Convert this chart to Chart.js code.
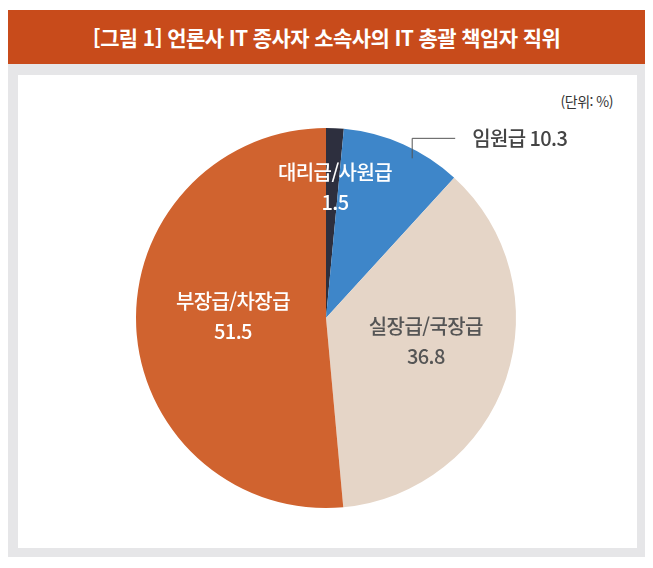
<!DOCTYPE html>
<html lang="ko">
<head>
    <meta charset="UTF-8">
    <title>언론사 IT 총괄 책임자 직위</title>
    <style>
        body {
            margin: 0;
            background: #ffffff;
            font-family: 'Noto Sans CJK KR', 'Noto Sans', sans-serif;
        }
        .header {
            position: absolute;
            left: 8px;
            top: 10px;
            width: 637px;
            height: 54px;
            background: #c84b1b;
            color: #ffffff;
            font-size: 21px;
            font-weight: bold;
            letter-spacing: -0.6px;
            line-height: 54px;
            text-align: center;
        }
        .frame {
            position: absolute;
            left: 8px;
            top: 64px;
            width: 637px;
            height: 493px;
            background: #e6e6e8;
        }
        .panel {
            position: absolute;
            left: 18px;
            top: 75px;
            width: 619px;
            height: 473px;
            background: #ffffff;
        }
        .unit {
            position: absolute;
            right: 24px;
            top: 16px;
            font-size: 14px;
            color: #333;
            letter-spacing: -0.5px;
        }
        #pie-chart {
            position: absolute;
            left: 0;
            top: 0;
        }
    </style>
</head>
<body>
    <div class="header">[그림 1] 언론사 IT 종사자 소속사의 IT 총괄 책임자 직위</div>
    <div class="frame"></div>
    <div class="panel">
        <div class="unit">(단위: %)</div>
        <div style="position:absolute;left:0;top:0;width:619px;height:473px;">
            <canvas id="pie-chart" width="619" height="473"></canvas>
        </div>
    </div>

    <script src="https://cdn.jsdelivr.net/npm/chart.js"></script>
    <script>
        // data, clockwise from 12 o'clock
        const categories = ['대리급/사원급', '임원급', '실장급/국장급', '부장급/차장급'];
        const shares = [1.5, 10.3, 36.8, 51.5];
        const sliceColors = ['#2d2f3e', '#3e86c9', '#e5d5c7', '#d0632f'];

        // where each label sits: t = position along the slice, rf = fraction of radius
        const labelSpots = [
            { t: 0.73, rf: 0.69, color: '#ffffff' },
            { t: 0.62, rf: 0.955, color: '#444444', leader: true },
            { t: 0.46, rf: 0.54, color: '#555555' },
            { t: 0.52, rf: 0.49, color: '#ffffff' }
        ];

        const sliceLabels = {
            id: 'sliceLabels',
            afterDatasetsDraw(chart) {
                const ctx = chart.ctx;
                const meta = chart.getDatasetMeta(0);
                ctx.save();
                ctx.font = '500 20px "Noto Sans CJK KR", sans-serif';
                ctx.letterSpacing = '-0.6px';
                ctx.textBaseline = 'middle';
                meta.data.forEach(function(arc, i) {
                    const p = arc.getProps(['x', 'y', 'startAngle', 'endAngle', 'outerRadius'], true);
                    const spot = labelSpots[i];
                    const a = p.startAngle + spot.t * (p.endAngle - p.startAngle);
                    const px = p.x + Math.cos(a) * p.outerRadius * spot.rf;
                    const py = p.y + Math.sin(a) * p.outerRadius * spot.rf;
                    ctx.fillStyle = spot.color;
                    if (spot.leader) {
                        // elbow line out of the slice, label to its right
                        const topY = py - 20;
                        ctx.strokeStyle = '#555555';
                        ctx.lineWidth = 1;
                        ctx.beginPath();
                        ctx.moveTo(px, py);
                        ctx.lineTo(px, topY);
                        ctx.lineTo(px + 43, topY);
                        ctx.stroke();
                        ctx.textAlign = 'left';
                        ctx.fillText(categories[i] + ' ' + shares[i], px + 60, topY);
                    } else {
                        ctx.textAlign = 'center';
                        ctx.fillText(categories[i], px, py - 15);
                        ctx.fillText(String(shares[i]), px, py + 15);
                    }
                });
                ctx.restore();
            }
        };

        const ctx = document.getElementById('pie-chart').getContext('2d');
        const pieChart = new Chart(ctx, {
            type: 'pie',
            data: {
                labels: categories,
                datasets: [{
                    data: shares,
                    backgroundColor: sliceColors,
                    borderWidth: 0
                }]
            },
            options: {
                responsive: false,
                animation: false,
                layout: {
                    padding: { top: 53, bottom: 40, left: 118, right: 121 }
                },
                plugins: {
                    legend: { display: false },
                    tooltip: { enabled: false }
                }
            },
            plugins: [sliceLabels]
        });
    </script>
</body>
</html>
